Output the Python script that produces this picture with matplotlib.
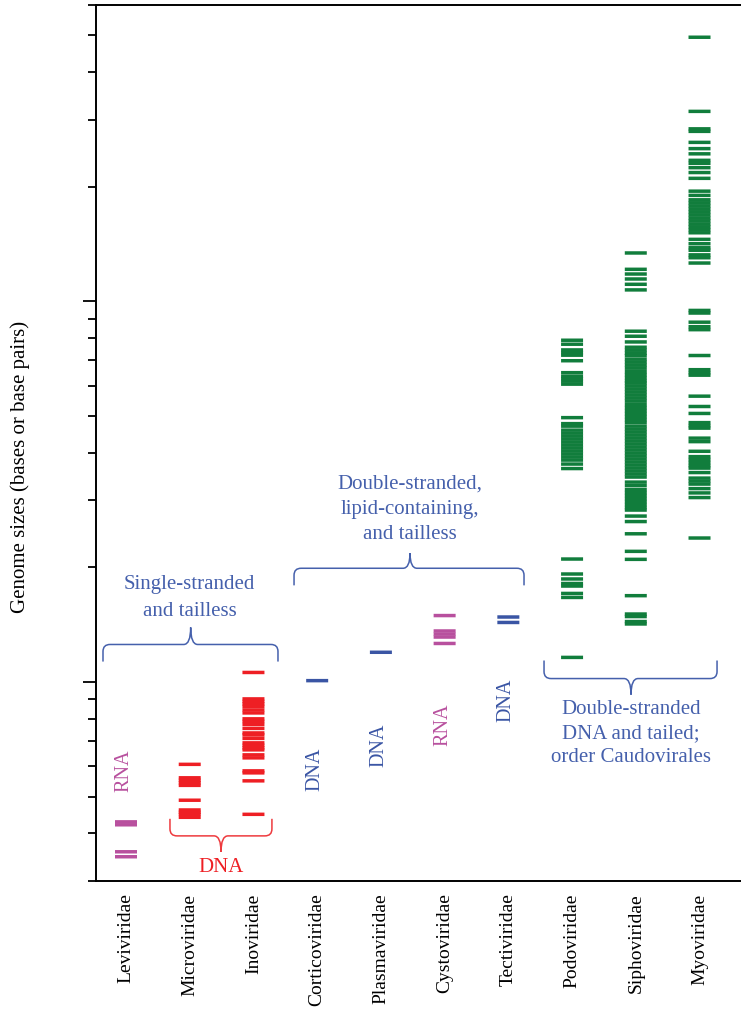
import numpy as np
import matplotlib
matplotlib.use("Agg")
import matplotlib.pyplot as plt
from matplotlib.path import Path
from matplotlib.patches import PathPatch
from matplotlib.transforms import blended_transform_factory

plt.rcParams['font.family'] = ['Liberation Serif', 'DejaVu Serif']

# genome sizes per phage family (bases or base pairs)
families = ["Leviviridae", "Microviridae", "Inoviridae", "Corticoviridae",
            "Plasmaviridae", "Cystoviridae", "Tectiviridae", "Podoviridae",
            "Siphoviridae", "Myoviridae"]

levi = [4290, 4215, 3580, 3474]
micro = [6075, 5600, 5515, 5432, 5350, 4890, 4610, 4545, 4490, 4410]
ino = [10590, 9025, 8888, 8756, 8625, 8443, 8291, 8000, 7876, 7735, 7550,
       7346, 7259, 7107, 6918, 6814, 6712, 6631, 6434, 6318, 5840, 5770,
       5498, 4490]
cortico = [10079]
plasma = [11965]
cysto = [14940, 13610, 13360, 13120, 12620]
tecti = [14810, 14330]
podo = [78990, 77110, 74500, 73250, 72160, 69780, 64920, 63550, 62600,
        61660, 60560, 49460, 47700, 46980, 45860, 45030, 44220, 43430,
        42650, 41880, 41130, 40390, 39670, 38960, 38260, 37350, 36350,
        21030, 19210, 18640, 18140, 17860, 17080, 16670, 11600]
sipho = [133900, 121300, 117900, 114400, 110800, 107100, 83420, 80920,
         78180, 75720, 74360, 73020, 71940, 70430, 69170, 67920, 66700,
         65310, 64130, 62980, 61840, 60920, 59830, 58750, 57700, 56660,
         55640, 54640, 53500, 52540, 51600, 50670, 49770, 48870, 47990,
         46980, 46130, 45310, 44490, 43690, 42910, 42140, 41380, 40640,
         39900, 39190, 38490, 37800, 37120, 36450, 35800, 35160, 34530,
         33490, 32790, 32010, 31430, 30870, 30310, 29770, 29230, 28710,
         28280, 27270, 26380, 24500, 22030, 20990, 16850, 15080, 14850,
         14410, 14200]
myo = [493700, 315300, 283700, 279400, 261400, 251700, 243900, 234500,
       230300, 224300, 217800, 210300, 194600, 189700, 184700, 181400,
       178100, 174900, 171800, 168700, 165600, 162700, 159700, 156900,
       154100, 151300, 145400, 141600, 138200, 136100, 132400, 130100,
       126000, 94600, 93110, 88100, 85740, 84200, 72020, 66100, 64920,
       63940, 56320, 52910, 50730, 47990, 47120, 46420, 43690, 42780,
       40350, 39070, 38370, 37690, 37010, 36450, 35480, 34310, 33700,
       33090, 32200, 31370, 30500, 23880]

sizes = [levi, micro, ino, cortico, plasma, cysto, tecti, podo, sipho, myo]

# minor tick positions on the log axis
minor_ticks = [3e3, 4e3, 5e3, 6e3, 7e3, 8e3, 9e3,
               2e4, 3e4, 4e4, 5e4, 6e4, 7e4, 8e4, 9e4,
               2e5, 3e5, 4e5, 5e5, 6e5]

GREEN = "#117d3c"
RED = "#ee1f24"
MAGENTA = "#b8509e"
BLUE = "#3a55a4"
TEXT_BLUE = "#4560ac"
colors = [MAGENTA, RED, RED, BLUE, BLUE, MAGENTA, BLUE, GREEN, GREEN, GREEN]

fig = plt.figure(figsize=(7.41, 10.09), dpi=100)
ax = fig.add_axes([96 / 741, 128 / 1009, 645 / 741, 876 / 1009])

half = 0.1726
for i, (vals, c) in enumerate(zip(sizes, colors)):
    ax.hlines(vals, i - half, i + half, colors=c, lw=2.5, snap=False)

ax.set_yscale("log")
ax.set_ylim(3000, 6e5)
ax.set_xlim(-0.4708, 9.651)

ax.spines['right'].set_visible(False)
for s in ['left', 'top', 'bottom']:
    ax.spines[s].set_linewidth(1.4)
ax.yaxis.set_major_locator(matplotlib.ticker.FixedLocator([1e4, 1e5]))
ax.yaxis.set_minor_locator(matplotlib.ticker.FixedLocator(minor_ticks))
ax.yaxis.set_major_formatter(matplotlib.ticker.NullFormatter())
ax.yaxis.set_minor_formatter(matplotlib.ticker.NullFormatter())
ax.tick_params(axis='y', which='major', length=9.4, width=1.3, direction='out')
ax.tick_params(axis='y', which='minor', length=5.8, width=1.3, direction='out')

ax.set_xticks(range(len(families)))
ax.set_xticklabels(families, rotation=90, fontsize=14)
ax.tick_params(axis='x', length=0, pad=9)

fig.text(20 / 741, 0.537, "Genome sizes (bases or base pairs)", rotation=90,
         ha='center', va='center', fontsize=15)

tr = blended_transform_factory(ax.transData, ax.transAxes)


def brace(x0, x1, xm, yb, h_end, h_tip, color, rx=0.11, ry=0.008):
    s = np.sign(h_tip)
    verts = [(x0, yb + h_end), (x0, yb - s * ry), (x0, yb), (x0 + rx, yb),
             (xm - rx, yb), (xm, yb), (xm, yb + h_tip),
             (xm, yb), (xm + rx, yb),
             (x1 - rx, yb), (x1, yb), (x1, yb - s * ry), (x1, yb + h_end)]
    codes = [Path.MOVETO, Path.LINETO, Path.CURVE3, Path.CURVE3,
             Path.LINETO, Path.CURVE3, Path.CURVE3,
             Path.CURVE3, Path.CURVE3,
             Path.LINETO, Path.CURVE3, Path.CURVE3, Path.LINETO]
    ax.add_patch(PathPatch(Path(verts, codes), transform=tr, fill=False,
                           edgecolor=color, lw=1.1, clip_on=False))


# group braces
brace(-0.361, 2.385, 1.015, 0.270, -0.0195, 0.0195, TEXT_BLUE)
brace(2.637, 6.246, 4.457, 0.357, -0.0195, 0.0172, TEXT_BLUE)
brace(6.56, 9.275, 7.925, 0.2311, 0.0206, -0.0183, TEXT_BLUE)
brace(0.69, 2.29, 1.491, 0.0515, 0.0195, -0.0183, "#ee3a3e")

ax.text(1.0, 0.3232, "Single-stranded\nand tailless", transform=tr,
        ha='center', va='center', fontsize=15, color=TEXT_BLUE,
        linespacing=1.58)
ax.text(4.457, 0.4245, "Double-stranded,\nlipid-containing,\nand tailless",
        transform=tr, ha='center', va='center', fontsize=15,
        color=TEXT_BLUE, linespacing=1.42)
ax.text(7.925, 0.1682, "Double-stranded\nDNA and tailed;\norder Caudovirales",
        transform=tr, ha='center', va='center', fontsize=15,
        color=TEXT_BLUE, linespacing=1.37)
ax.text(1.491, 0.0149, "DNA", transform=tr, ha='center', va='center',
        fontsize=15, color=RED)

# nucleic acid labels under the marks
acid_x = [0, 3, 4, 5, 6]
acid_y = [0.1259, 0.128, 0.1545, 0.1785, 0.206]
acid_txt = ["RNA", "DNA", "DNA", "RNA", "DNA"]
acid_col = [MAGENTA, BLUE, BLUE, MAGENTA, BLUE]
for x, y, t, c in zip(acid_x, acid_y, acid_txt, acid_col):
    ax.text(x - 0.03, y, t, transform=tr, rotation=90, ha='center',
            va='center', fontsize=14.5, color=c)

fig.savefig("out.png", dpi=100)
